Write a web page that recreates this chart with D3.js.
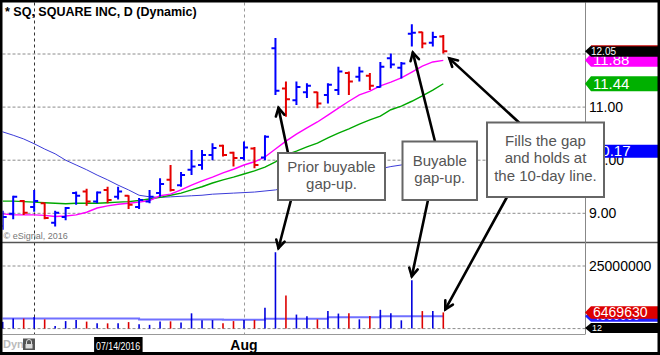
<!DOCTYPE html>
<html><head><meta charset="utf-8">
<script src="https://cdn.jsdelivr.net/npm/d3@7"></script>
<style>body{margin:0;background:#fff}svg{display:block}text{font-family:Arial,"Liberation Sans",sans-serif}</style>
</head><body><svg id="c" width="660" height="355"></svg>
<script>
// ---- data ----
const dates = ["06/28/2016","06/29/2016","06/30/2016","07/01/2016","07/05/2016","07/06/2016","07/07/2016","07/08/2016","07/11/2016","07/12/2016","07/13/2016","07/14/2016","07/15/2016","07/18/2016","07/19/2016","07/20/2016","07/21/2016","07/22/2016","07/25/2016","07/26/2016","07/27/2016","07/28/2016","07/29/2016","08/01/2016","08/02/2016","08/03/2016","08/04/2016","08/05/2016","08/08/2016","08/09/2016","08/10/2016","08/11/2016","08/12/2016","08/15/2016","08/16/2016","08/17/2016","08/18/2016","08/19/2016","08/22/2016","08/23/2016","08/24/2016","08/25/2016","08/26/2016"];
const open  = [8.76,8.99,9.23,9.12,9.19,8.82,8.93,9.38,9.41,9.22,9.44,9.31,9.33,9.12,9.22,9.38,9.63,9.53,9.82,9.91,10.10,10.27,10.14,10.04,10.22,10.05,12.11,11.35,11.13,11.28,11.28,11.23,11.32,11.64,11.57,11.59,11.38,11.92,11.74,12.38,12.41,12.21,12.33];
const high  = [9.05,9.33,9.25,9.44,9.20,9.05,9.12,9.41,9.46,9.41,9.50,9.50,9.34,9.29,9.44,9.66,9.91,9.78,10.19,10.19,10.32,10.29,10.16,10.35,10.25,10.47,12.30,11.48,11.48,11.45,11.29,11.45,11.76,11.67,11.76,11.64,11.85,12.01,11.85,12.56,12.42,12.42,12.36];
const low   = [8.69,8.89,8.97,9.03,8.89,8.75,8.87,9.16,9.14,9.19,9.19,9.26,9.08,9.08,9.19,9.31,9.41,9.50,9.72,9.82,10.00,10.07,9.88,10.00,9.85,10.00,11.23,10.82,11.04,11.17,10.98,11.07,11.23,11.23,11.48,11.32,11.37,11.73,11.54,12.14,12.11,12.14,12.01];
const close = [8.93,9.31,9.01,9.23,8.91,9.01,9.10,9.33,9.22,9.39,9.25,9.41,9.16,9.25,9.31,9.55,9.44,9.72,9.88,10.10,10.23,10.10,10.04,10.24,9.91,10.44,11.31,11.15,11.38,11.40,11.07,11.42,11.67,11.48,11.67,11.40,11.76,11.80,11.82,12.40,12.20,12.32,12.05];
const volume = [2.7e6,4.0e6,4.0e6,4.6e6,3.7e6,1.0e6,3.0e6,3.4e6,2.8e6,2.1e6,2.1e6,2.1e6,2.6e6,1.7e6,1.5e6,2.8e6,2.9e6,2.4e6,6.1e6,3.3e6,3.4e6,2.1e6,3.0e6,3.4e6,3.4e6,8.3e6,30.5e6,13.2e6,5.6e6,4.9e6,3.7e6,7.0e6,6.0e6,6.1e6,3.7e6,5.0e6,7.5e6,6.1e6,3.3e6,19.3e6,7.0e6,7.0e6,6469630];
const ma10 = [8.99,8.97,8.97,8.97,8.96,8.94,8.95,8.97,9.02,9.10,9.14,9.17,9.19,9.21,9.24,9.33,9.36,9.44,9.53,9.61,9.68,9.76,9.83,9.91,9.97,10.06,10.21,10.36,10.49,10.61,10.72,10.85,10.98,11.11,11.23,11.30,11.40,11.47,11.55,11.66,11.77,11.85,11.88];
const maGreen = [9.23,9.23,9.22,9.21,9.20,9.19,9.18,9.19,9.19,9.19,9.20,9.21,9.22,9.24,9.27,9.30,9.34,9.38,9.44,9.50,9.57,9.63,9.68,9.74,9.80,9.87,9.97,10.10,10.17,10.25,10.32,10.42,10.51,10.59,10.68,10.76,10.83,10.95,11.02,11.11,11.21,11.32,11.44];
const maBlue = [10.55,10.47,10.40,10.31,10.21,10.12,10.00,9.91,9.82,9.72,9.63,9.53,9.44,9.34,9.31,9.30,9.31,9.32,9.33,9.34,9.36,9.37,9.38,9.39,9.40,9.42,9.44,9.48,9.52,9.56,9.60,9.64,9.68,9.72,9.76,9.80,9.84,9.88,9.91,9.97,10.03,10.10,10.17];
const volAvg = [4.0e6,4.0e6,4.0e6,4.0e6,4.0e6,4.0e6,4.0e6,4.0e6,4.0e6,4.0e6,4.0e6,4.0e6,4.0e6,3.6e6,3.6e6,3.6e6,3.6e6,3.6e6,3.6e6,3.6e6,3.6e6,3.5e6,3.5e6,3.5e6,3.5e6,3.9e6,3.9e6,3.9e6,3.9e6,3.9e6,3.9e6,4.5e6,4.5e6,4.5e6,4.5e6,4.5e6,4.9e6,4.9e6,4.9e6,4.9e6,4.9e6,4.9e6,4.9e6];
const priceTicks = [9, 10, 11, 12];
const volTicks = [0, 25000000];
const title = "* SQ, SQUARE INC, D (Dynamic)";

// ---- layout ----
const W = 660, H = 355, PR = 585;
const svg = d3.select("#c");
svg.append("rect").attr("width", W).attr("height", H).attr("fill", "#fff");
svg.append("defs").append("clipPath").attr("id","plot").append("rect")
  .attr("x",2.5).attr("y",2.5).attr("width",PR-2.5).attr("height",240);

const x = d3.scalePoint().domain(dates).range([2.7, 443.3]);
const y = d3.scaleLinear().domain([9, 12]).range([213.3, 54]);
const yv = d3.scaleLinear().domain([0, 25e6]).range([328.6, 266]);
const idx = d3.range(dates.length);
const BLUE = "#0000ff", RED = "#e60000";
const up = i => i === 0 ? close[i] >= open[i] : close[i] >= close[i-1];

// gridlines
const g = svg.append("g");
g.selectAll(".hg").data(priceTicks).join("line")
  .attr("x1",2.5).attr("x2",PR).attr("y1",d=>y(d)).attr("y2",d=>y(d))
  .attr("stroke","#8c8c8c").attr("stroke-dasharray","3,2");
g.selectAll(".vg").data(volTicks).join("line")
  .attr("x1",2.5).attr("x2",PR).attr("y1",d=>yv(d)).attr("y2",d=>yv(d))
  .attr("stroke","#8c8c8c").attr("stroke-dasharray","3,2");
const monthStarts = idx.filter(i => i > 0 && dates[i].slice(0,2) !== dates[i-1].slice(0,2));
g.selectAll(".mg").data(monthStarts).join("line")
  .attr("x1",i=>Math.round(x(dates[i]))+0.5).attr("x2",i=>Math.round(x(dates[i]))+0.5)
  .attr("y1",2.5).attr("y2",334)
  .attr("stroke",(d,k)=>k===0?"#333":"#9a9a9a").attr("stroke-dasharray","3,3");

// separators
svg.append("line").attr("x1",0).attr("x2",W).attr("y1",242.5).attr("y2",242.5).attr("stroke","#555").attr("stroke-width",1.3);
svg.append("line").attr("x1",2.5).attr("x2",PR).attr("y1",334.5).attr("y2",334.5).attr("stroke","#999");
svg.append("line").attr("x1",PR+0.5).attr("x2",PR+0.5).attr("y1",2.5).attr("y2",334.5).attr("stroke","#888");

// moving averages
const pl = svg.append("g").attr("clip-path","url(#plot)");
const line = arr => d3.line().x(i=>x(dates[i])).y(i=>y(arr[i]))(idx);
pl.append("path").attr("d", d3.line().x(i=>i===0?0:x(dates[i])).y(i=>y(maBlue[i]))(idx)).attr("fill","none").attr("stroke","#3b3bd8").attr("stroke-width",1);
pl.append("path").attr("d", line(maGreen)).attr("fill","none").attr("stroke","#00a800").attr("stroke-width",1.4);
pl.append("path").attr("d", line(ma10)).attr("fill","none").attr("stroke","#ff00ff").attr("stroke-width",1.4);

// OHLC bars
const bars = pl.selectAll(".bar").data(idx).join("g").attr("stroke", i => up(i) ? BLUE : RED).attr("stroke-width", 2);
bars.append("line").attr("x1",i=>x(dates[i])).attr("x2",i=>x(dates[i])).attr("y1",i=>y(high[i])).attr("y2",i=>y(low[i]));
bars.append("line").attr("x1",i=>x(dates[i])-4).attr("x2",i=>x(dates[i])).attr("y1",i=>y(open[i])).attr("y2",i=>y(open[i]));
bars.append("line").attr("x1",i=>x(dates[i])).attr("x2",i=>x(dates[i])+4).attr("y1",i=>y(close[i])).attr("y2",i=>y(close[i]));

// volume
svg.append("path").attr("d", d3.line().curve(d3.curveStepAfter).x(i=>i===0?2.5:x(dates[i])).y(i=>yv(volAvg[i]))(idx))
  .attr("fill","none").attr("stroke","#7070ff").attr("stroke-width",2);
svg.selectAll(".vb").data(idx).join("line")
  .attr("x1",i=>x(dates[i])).attr("x2",i=>x(dates[i]))
  .attr("y1",yv(0)).attr("y2",i=>yv(volume[i]))
  .attr("stroke",i=>up(i)?"#0000dd":"#dd0000").attr("stroke-width",1.6);

// right axes
const pa = svg.append("g").attr("transform",`translate(${PR},0)`)
  .call(d3.axisRight(y).tickValues(priceTicks).tickFormat(d3.format(".2f")).tickSize(0).tickPadding(4));
const va = svg.append("g").attr("transform",`translate(${PR},0)`)
  .call(d3.axisRight(yv).tickValues([25000000]).tickFormat(d3.format("d")).tickSize(0).tickPadding(4));
[pa, va].forEach(a => { a.select(".domain").remove(); a.selectAll("text").attr("font-size",14).attr("fill","#000").attr("font-family",'Arial,"Liberation Sans",sans-serif'); });

// value tags
function tag(cy, h, fill, label, fs, dy, tx) {
  const t = svg.append("g");
  t.append("path").attr("d",`M${PR},${cy} L${PR+6},${cy-h/2} L${W},${cy-h/2} L${W},${cy+h/2} L${PR+6},${cy+h/2} Z`).attr("fill",fill);
  t.append("text").attr("x",tx).attr("y",cy+dy).attr("font-size",fs).attr("fill","#fff").text(label);
  return t;
}
const last = dates.length - 1;
tag(y(ma10[last]), 13, "#ff00ff", ma10[last].toFixed(2), 15, 5, 593);
tag(y(close[last]), 11, "#000", close[last].toFixed(2), 10, 3.6, 591);
svg.append("line").attr("x1",PR+6).attr("x2",W).attr("y1",y(close[last])-5.5).attr("y2",y(close[last])-5.5).attr("stroke","#d00").attr("stroke-width",1);
tag(y(maGreen[last]), 15, "#00b000", maGreen[last].toFixed(2), 15, 5.4, 593);
tag(y(maBlue[last]), 13, "#0000ff", maBlue[last].toFixed(2), 15, 5.3, 593);
tag(yv(volAvg[last]), 11, "#2020ff", d3.format("d")(volAvg[last]), 12, 4, 593);
tag(yv(volume[last]), 12.5, "#dd0000", d3.format("d")(volume[last]), 14, 4.8, 593);
tag(yv(0)-0.5, 10, "#000", "12", 9, 3.3, 592);

// texts
svg.append("text").attr("x",5).attr("y",15.5).attr("font-size",12.5).attr("font-weight","bold").attr("fill","#000").text(title);
svg.append("text").attr("x",3.5).attr("y",239).attr("font-size",9).attr("fill","#777").text("© eSignal, 2016");
svg.append("text").attr("x",3).attr("y",348).attr("font-size",11).attr("fill","#bbb").attr("font-weight","bold").text("Dyn");
const lk = svg.append("g");
lk.append("rect").attr("x",23).attr("y",338.5).attr("width",12).attr("height",11.5).attr("fill","#555");
lk.append("path").attr("d","M26.5,344 v-2 a2.5,2.5 0 0 1 5,0 v2").attr("fill","none").attr("stroke","#ddd").attr("stroke-width",1);
lk.append("rect").attr("x",25.5).attr("y",344).attr("width",7).attr("height",4.5).attr("fill","#ddd");
const cur = dates.indexOf("07/14/2016");
svg.append("rect").attr("x",x(dates[cur])-24).attr("y",337).attr("width",48.5).attr("height",16).attr("fill","#000");
svg.append("text").attr("x",x(dates[cur])).attr("y",349.5).attr("text-anchor","middle").attr("font-size",11.5)
  .attr("textLength",44).attr("lengthAdjust","spacingAndGlyphs").attr("fill","#fff").text(dates[cur]);
svg.selectAll(".ml").data(monthStarts.slice(1)).join("text")
  .attr("x",i=>x(dates[i])).attr("y",350).attr("text-anchor","middle").attr("font-size",14).attr("font-weight","bold").attr("fill","#000")
  .text(i => d3.timeFormat("%b")(d3.timeParse("%m/%d/%Y")(dates[i])));

// annotations
const notes = [
  {lines:["Prior buyable","gap-up."], box:[278,153,107,47],
   arrows:[[[288,153],[x(dates[26])+3, y(low[26])+13]], [[291,200],[x(dates[26])+3, yv(volume[26])-4]]]},
  {lines:["Buyable","gap-up."], box:[402.5,141.5,74.5,58.5],
   arrows:[[[435,141.5],[x(dates[39])+1, y(low[39])+6]], [[428,200],[x(dates[39]), yv(volume[39])-4]]]},
  {lines:["Fills the gap","and holds at","the 10-day line."], box:[487,122.5,117,74.5],
   arrows:[[[519,122.5],[x(dates[last])+6, y(close[last])+7]], [[507,197],[x(dates[last])+2, yv(volume[last])-3]]]}
];
const ag = svg.append("g").attr("stroke","#000").attr("stroke-width",2.6).attr("fill","none").attr("stroke-linecap","round");
notes.forEach(n => n.arrows.forEach(([a,b]) => {
  ag.append("line").attr("x1",a[0]).attr("y1",a[1]).attr("x2",b[0]).attr("y2",b[1]);
  const ang = Math.atan2(a[1]-b[1], a[0]-b[0]), L = 9, s = 0.5;
  ag.append("path").attr("stroke-linejoin","miter")
    .attr("d",`M${b[0]+L*Math.cos(ang+s)},${b[1]+L*Math.sin(ang+s)} L${b[0]},${b[1]} L${b[0]+L*Math.cos(ang-s)},${b[1]+L*Math.sin(ang-s)}`);
}));
notes.forEach(n => {
  const [bx,by,bw,bh] = n.box;
  svg.append("rect").attr("x",bx).attr("y",by).attr("width",bw).attr("height",bh).attr("fill","#fff").attr("stroke","#666").attr("stroke-width",2);
  const lh = n.lines.length === 3 ? 17.5 : 17, cy = by + bh/2 + 3.5;
  n.lines.forEach((t,k) => {
    svg.append("text").attr("x",bx+bw/2).attr("y",cy + (k-(n.lines.length-1)/2)*lh)
      .attr("text-anchor","middle").attr("font-size",15).attr("fill","#555").text(t);
  });
});

// frame
svg.append("rect").attr("x",1.25).attr("y",1.25).attr("width",W-2.5).attr("height",H-2.5).attr("fill","none").attr("stroke","#000").attr("stroke-width",2.5);
svg.append("rect").attr("x",0).attr("y",352).attr("width",W).attr("height",3).attr("fill","#000");
</script></body></html>
